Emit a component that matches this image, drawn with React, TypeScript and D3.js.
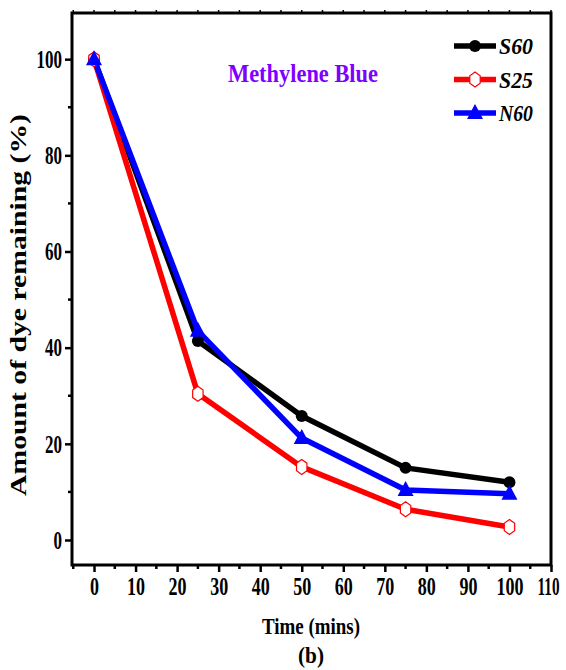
import React, { useRef, useEffect } from "react";
import * as d3 from "d3";

const times = [0, 25, 50, 75, 100];
const s60 = [100, 41.4, 25.8, 15, 12];
const s25 = [100, 30.4, 15.2, 6.4, 2.7];
const n60 = [100, 43.5, 21.2, 10.4, 9.6];
const xTicks = [0, 10, 20, 30, 40, 50, 60, 70, 80, 90, 100, 110];
const yTicks = [0, 20, 40, 60, 80, 100];

const series = [
  { name: "S60", values: s60, color: "#000000", marker: "circle" },
  { name: "S25", values: s25, color: "#ff0000", marker: "hexagon" },
  { name: "N60", values: n60, color: "#0000ff", marker: "triangle" },
];

const font = "Liberation Serif, DejaVu Serif, serif";

const App = () => {
  const svgRef = useRef(null);

  useEffect(() => {
    const svg = d3.select(svgRef.current);
    svg.selectAll("*").remove();

    const margin = { top: 13, left: 72, right: 15, bottom: 105 };
    const width = 566;
    const height = 670;

    const x = d3
      .scaleLinear()
      .domain([-5.3, 110])
      .range([margin.left, width - margin.right]);
    const y = d3
      .scaleLinear()
      .domain([-5.2, 109.6])
      .range([height - margin.bottom, margin.top]);

    // frame
    svg
      .append("rect")
      .attr("x", margin.left)
      .attr("y", margin.top)
      .attr("width", width - margin.right - margin.left)
      .attr("height", height - margin.bottom - margin.top)
      .attr("fill", "none")
      .attr("stroke", "#000")
      .attr("stroke-width", 3);

    // x axis
    const xAxis = svg
      .append("g")
      .attr("transform", `translate(0,${height - margin.bottom})`)
      .call(d3.axisBottom(x).tickValues(xTicks).tickSize(7).tickPadding(5).tickFormat(d3.format("d")));
    xAxis.select(".domain").remove();
    xAxis.selectAll(".tick line").attr("stroke-width", 2.5);
    xAxis
      .selectAll("text")
      .style("font-family", font)
      .style("font-weight", "bold")
      .style("font-size", "26px")
      .attr("textLength", (d) => (d === 110 ? 22 : String(d).length * 9))
      .attr("dx", (d) => (d === 110 ? -3 : 0))
      .attr("lengthAdjust", "spacingAndGlyphs")
      .attr("fill", "#000");
    const xMinor = d3.range(-5, 110, 10);
    svg
      .append("g")
      .selectAll("line")
      .data(xMinor)
      .enter()
      .append("line")
      .attr("x1", (d) => x(d))
      .attr("x2", (d) => x(d))
      .attr("y1", height - margin.bottom)
      .attr("y2", height - margin.bottom + 4)
      .attr("stroke", "#000")
      .attr("stroke-width", 2.5);
    // top ticks
    svg
      .append("g")
      .selectAll("line")
      .data(d3.range(-5, 111, 5))
      .enter()
      .append("line")
      .attr("x1", (d) => x(d))
      .attr("x2", (d) => x(d))
      .attr("y1", margin.top)
      .attr("y2", margin.top - 3)
      .attr("stroke", "#000")
      .attr("stroke-width", 1.5);

    // y axis
    const yAxis = svg
      .append("g")
      .attr("transform", `translate(${margin.left},0)`)
      .call(d3.axisLeft(y).tickValues(yTicks).tickSize(7).tickPadding(3));
    yAxis.select(".domain").remove();
    yAxis.selectAll(".tick line").attr("stroke-width", 2.5);
    yAxis
      .selectAll("text")
      .style("font-family", font)
      .style("font-weight", "bold")
      .style("font-size", "26px")
      .attr("textLength", (d) => String(d).length * 8.5)
      .attr("lengthAdjust", "spacingAndGlyphs")
      .attr("fill", "#000");
    svg
      .append("g")
      .selectAll("line")
      .data(d3.range(10, 110, 20))
      .enter()
      .append("line")
      .attr("x1", margin.left)
      .attr("x2", margin.left - 4)
      .attr("y1", (d) => y(d))
      .attr("y2", (d) => y(d))
      .attr("stroke", "#000")
      .attr("stroke-width", 2.5);

    const line = d3
      .line()
      .x((d) => x(d[0]))
      .y((d) => y(d[1]));

    const drawMarker = (g, type, cx, cy, color) => {
      if (type === "circle") {
        g.append("circle").attr("cx", cx).attr("cy", cy).attr("r", 6).attr("fill", color);
      } else if (type === "hexagon") {
        const pts = d3.range(6).map((i) => {
          const a = (Math.PI / 3) * i + Math.PI / 2;
          return [cx + 6 * Math.cos(a), cy + 7.5 * Math.sin(a)];
        });
        g.append("polygon")
          .attr("points", pts.map((p) => p.join(",")).join(" "))
          .attr("fill", "#fff")
          .attr("stroke", color)
          .attr("stroke-width", 1.2);
      } else {
        g.append("path")
          .attr("d", `M${cx},${cy - 9} L${cx + 8},${cy + 6} L${cx - 8},${cy + 6} Z`)
          .attr("fill", color);
      }
    };

    series.forEach((s) => {
      const pts = times.map((t, i) => [t, s.values[i]]);
      svg
        .append("path")
        .attr("d", line(pts))
        .attr("fill", "none")
        .attr("stroke", s.color)
        .attr("stroke-width", 5.5)
        .attr("stroke-linejoin", "round");
    });
    series.forEach((s) => {
      const g = svg.append("g");
      times.forEach((t, i) => drawMarker(g, s.marker, x(t), y(s.values[i]), s.color));
    });

    const txt = (sel, size, extra = {}) => {
      sel
        .style("font-family", font)
        .style("font-weight", "bold")
        .style("font-size", `${size}px`);
      Object.entries(extra).forEach(([k, v]) => sel.attr(k, v));
      return sel;
    };

    // legend
    const legend = svg.append("g");
    series.forEach((s, i) => {
      const ly = 46 + i * 33.5;
      legend
        .append("line")
        .attr("x1", 454)
        .attr("x2", 496)
        .attr("y1", ly)
        .attr("y2", ly)
        .attr("stroke", s.color)
        .attr("stroke-width", 5.5);
      drawMarker(legend, s.marker, 475, ly, s.color);
      txt(legend.append("text"), 24, { x: 499, y: ly + 8, textLength: 34, lengthAdjust: "spacingAndGlyphs" })
        .style("font-style", "italic")
        .text(s.name);
    });

    txt(svg.append("text"), 26, {
      x: 303,
      y: 82,
      "text-anchor": "middle",
      fill: "#8000ff",
      textLength: 150,
      lengthAdjust: "spacingAndGlyphs",
    }).text("Methylene Blue");

    txt(svg.append("text"), 24, {
      transform: "translate(26,305) rotate(-90)",
      "text-anchor": "middle",
      textLength: 382,
      lengthAdjust: "spacingAndGlyphs",
    }).text("Amount of dye remaining (%)");

    txt(svg.append("text"), 24, {
      x: 311,
      y: 634,
      "text-anchor": "middle",
      textLength: 98,
      lengthAdjust: "spacingAndGlyphs",
    }).text("Time (mins)");

    txt(svg.append("text"), 24, {
      x: 311,
      y: 663,
      "text-anchor": "middle",
      textLength: 26,
      lengthAdjust: "spacingAndGlyphs",
    }).text("(b)");
  }, []);

  return (
    <svg
      ref={svgRef}
      width={566}
      height={670}
      style={{ position: "absolute", left: 0, top: 0, background: "#fff" }}
    ></svg>
  );
};

export default App;
